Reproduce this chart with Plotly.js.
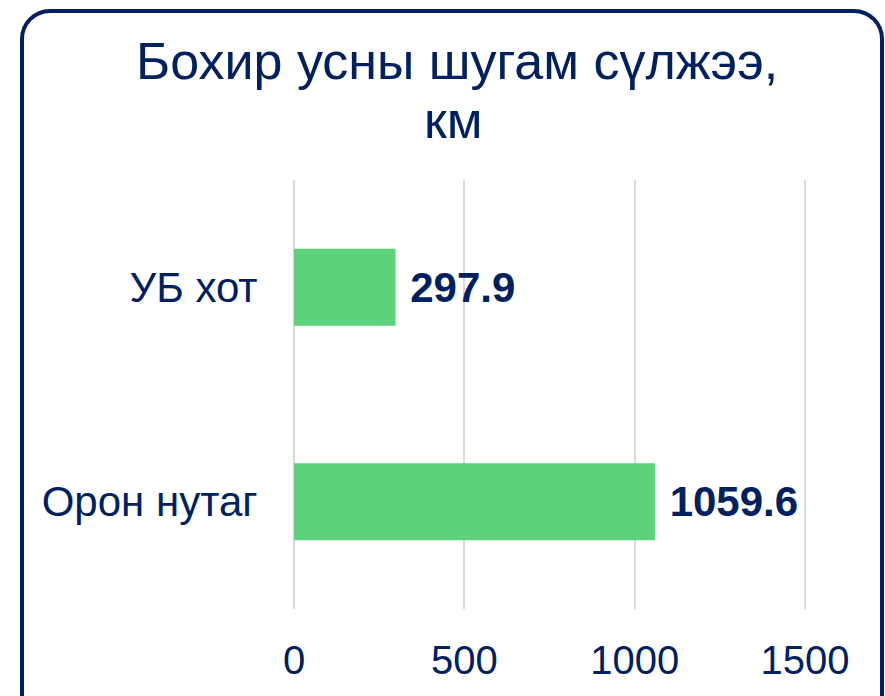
<!DOCTYPE html>
<html>
<head>
<meta charset="utf-8">
<script src="https://cdn.plot.ly/plotly-3.0.1.min.js"></script>
<style>
  html, body { margin: 0; padding: 0; background: #ffffff; }
  #wrap { position: relative; width: 885px; height: 696px; overflow: hidden; }
  #chart { position: absolute; left: 0; top: 0; width: 885px; height: 696px; }
  #frame { position: absolute; left: 20px; top: 9px; width: 856px; height: 720px;
           border: 4px solid #002060; border-radius: 30px; pointer-events: none; }
</style>
</head>
<body>
<div id="wrap">
  <div id="chart"></div>
  <div id="frame"></div>
</div>
<script>
const categories = ['Орон нутаг', 'УБ хот'];
const values = [1059.6, 297.9];
const tickValues = [0, 500, 1000, 1500];
const tickLabels = ['0', '500', '1000', '1500'];
const titleLines = ['Бохир усны шугам сүлжээ,', 'км'];

const navy = '#002060';
const green = '#5DD27A';
const font = 'Arial, "Liberation Sans", sans-serif';

const W = 885, H = 696;
const M = { l: 293, r: 79, t: 180, b: 87 };
const plotW = W - M.l - M.r, plotH = H - M.t - M.b;
const px = x => (x - M.l) / plotW;
const py = y => (H - M.b - y) / plotH;

const trace = {
  type: 'bar',
  orientation: 'h',
  y: categories,
  x: values,
  marker: { color: green },
  text: values.map(v => '\u00a0' + v.toFixed(1)),
  textposition: 'outside',
  textfont: { family: font, size: 42, color: navy, weight: 'bold' },
  cliponaxis: false,
  hoverinfo: 'none'
};

const layout = {
  width: W,
  height: H,
  margin: M,
  paper_bgcolor: '#ffffff',
  plot_bgcolor: '#ffffff',
  showlegend: false,
  bargap: 0.64,
  annotations: [
    { text: titleLines[0], xref: 'paper', yref: 'paper', x: px(457), y: py(61),
      xanchor: 'center', yanchor: 'middle', showarrow: false,
      font: { family: font, size: 52, color: navy } },
    { text: titleLines[1], xref: 'paper', yref: 'paper', x: px(453), y: py(120),
      xanchor: 'center', yanchor: 'middle', showarrow: false,
      font: { family: font, size: 52, color: navy } }
  ],
  xaxis: {
    range: [-3, 1503],
    tickvals: tickValues,
    ticktext: tickLabels,
    showgrid: true,
    gridcolor: '#d9d9d9',
    gridwidth: 2,
    zeroline: false,
    showline: false,
    ticks: 'outside',
    ticklen: 16,
    tickcolor: 'rgba(0,0,0,0)',
    tickfont: { family: font, size: 40, color: navy },
    fixedrange: true
  },
  yaxis: {
    showgrid: false,
    zeroline: false,
    showline: false,
    ticks: 'outside',
    ticklen: 26,
    tickcolor: 'rgba(0,0,0,0)',
    tickfont: { family: font, size: 42, color: navy },
    fixedrange: true
  }
};

Plotly.newPlot('chart', [trace], layout, { displayModeBar: false, staticPlot: true });
</script>
</body>
</html>
